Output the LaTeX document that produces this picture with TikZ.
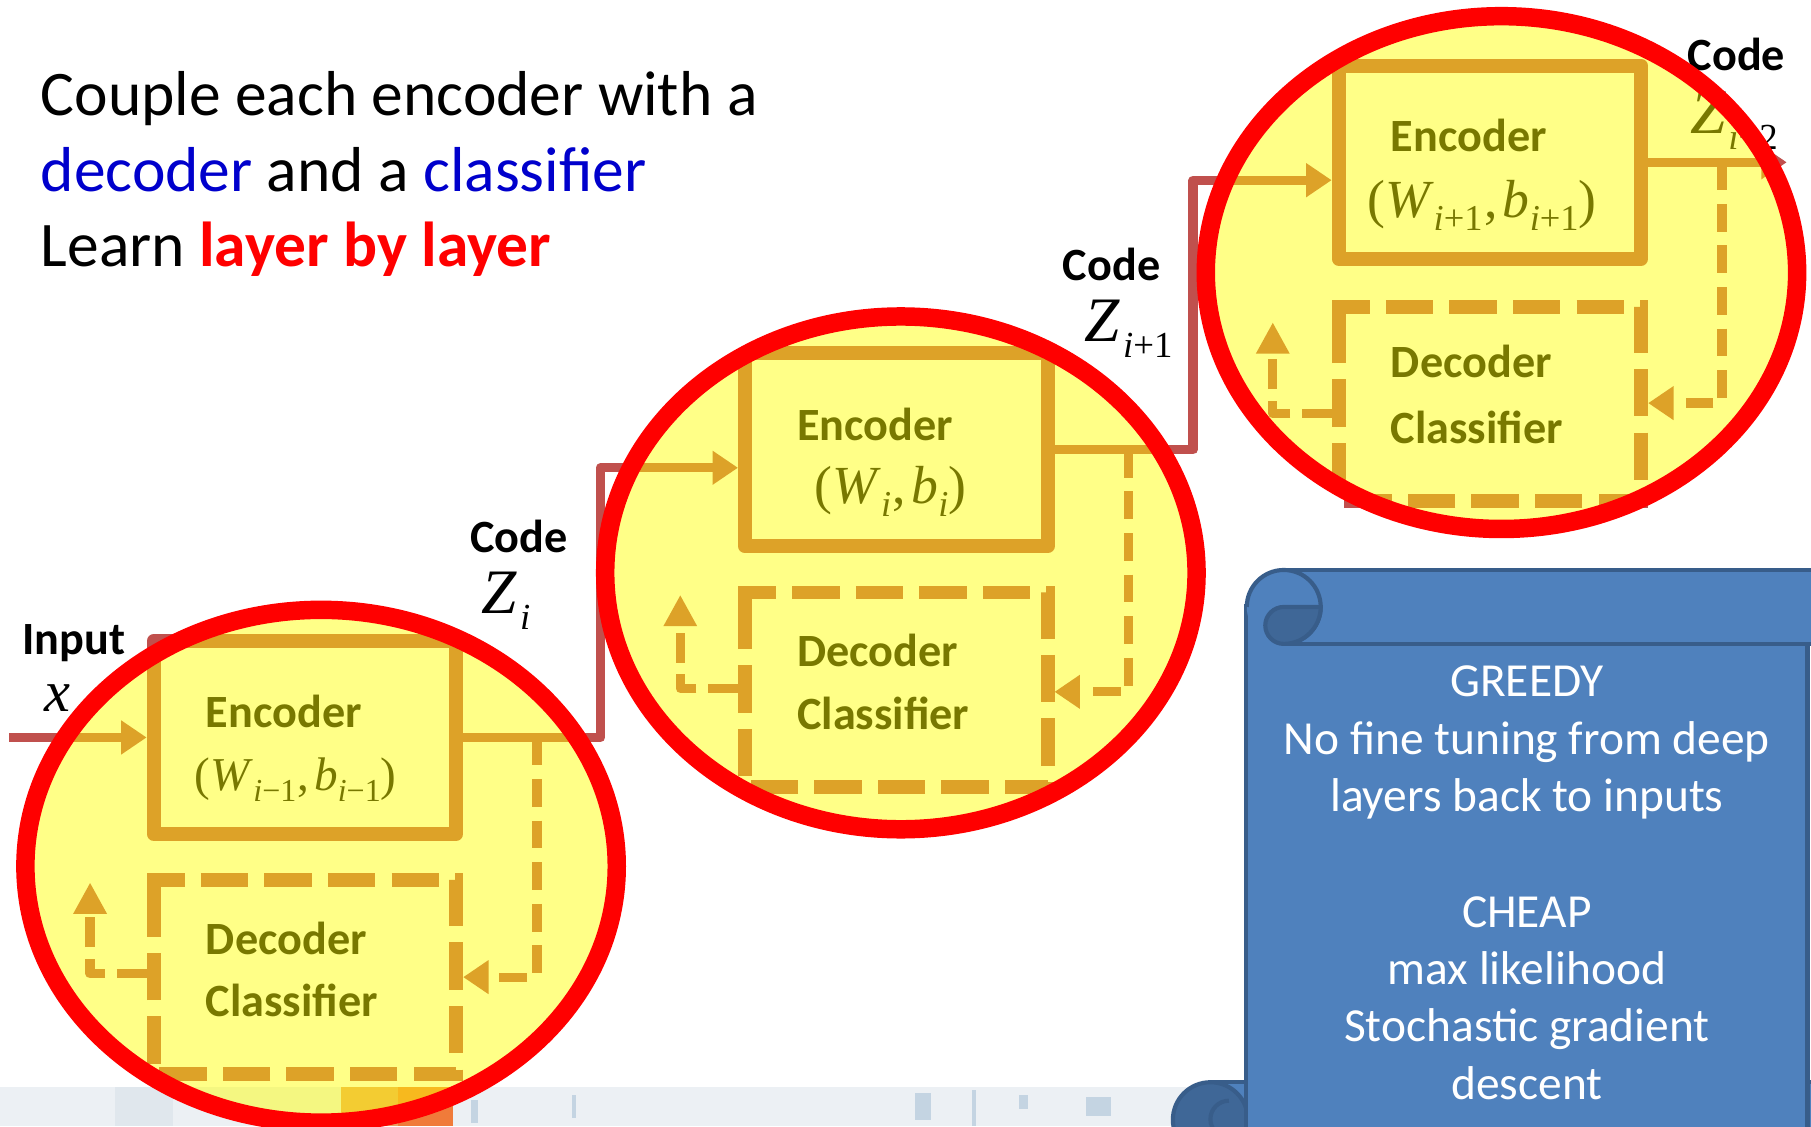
\documentclass[tikz,border=0pt]{standalone}
\usepackage{fontspec}
\setmainfont{Carlito}
\newfontfamily\eqfont{Liberation Serif}
\usetikzlibrary{arrows.meta,calc}

\definecolor{linkred}{RGB}{192,80,77}
\definecolor{ringred}{RGB}{255,0,0}
\definecolor{hilite}{RGB}{255,255,0}
\definecolor{txtblue}{RGB}{0,0,204}
\definecolor{txtred}{RGB}{255,0,0}
\definecolor{scrollfill}{RGB}{79,129,189}
\definecolor{scrollline}{RGB}{56,93,138}
\definecolor{scrolldark}{RGB}{63,103,151}
\definecolor{stripbase}{RGB}{236,240,244}
\definecolor{stripgrey}{RGB}{224,231,237}
\definecolor{stripamber}{RGB}{233,160,96}
\definecolor{striporange}{RGB}{240,123,58}
\definecolor{stripsmudge}{RGB}{196,212,226}

% one drawing unit is 0.025cm (0.7113pt)
% lowered subscript, scaled by the optional ratio of the surrounding size
\makeatletter
\newcommand\lowsub[2][0.6]{\raisebox{-0.25em}{\fontsize{#1\dimexpr\f@size pt\relax}{0pt}\selectfont #2}}
\makeatother
% parameter pair (W_a, b_a)
\newcommand\wbpair[1]{(\textit{W}\lowsub[0.68]{#1}\kern0.03em,\kern0.1em\textit{b}\lowsub[0.68]{#1})}

\tikzset{
  conn/.style={draw=linkred, line width=0.2cm, line join=round},
  feed/.style={conn, dash pattern=on 0.6cm off 0.3cm, shorten >=0.15cm},
  backloop/.style={conn, dash pattern=on 0.65cm off 0.25cm, shorten <=0.15cm},
  bigtip/.style={-{Triangle[length=0.55cm,width=0.7cm]}},
  smalltip/.style={-{Triangle[length=0.68cm,width=0.68cm]}},
  encbox/.style={draw=linkred, line width=0.3cm, line join=round, rectangle,
    minimum width=6.55cm, minimum height=4.175cm, inner sep=0pt},
  decslot/.style={rectangle, minimum width=6.55cm, minimum height=4.2cm,
    inner sep=0pt, outer sep=0pt},
  decline/.style={draw=linkred, line width=0.3cm, dash pattern=on 1.025cm off 0.35cm},
  boldlab/.style={font=\fontsize{28.45pt}{28.45pt}\selectfont\bfseries, inner sep=0pt, anchor=base west},
  eqlab/.style={font=\fontsize{33pt}{33pt}\selectfont\eqfont, inner sep=0pt, anchor=base},
  eqsmall/.style={eqlab, font=\fontsize{29pt}{29pt}\selectfont\eqfont},
  zlab/.style={font=\fontsize{39pt}{39pt}\selectfont\eqfont, inner sep=0pt, anchor=base west},
  xlab/.style={font=\fontsize{36pt}{36pt}\selectfont\eqfont, inner sep=0pt, anchor=base west},
  titlelab/.style={font=\fontsize{39.1pt}{46.9pt}\selectfont, inner sep=0pt, anchor=base west},
  scrolllab/.style={font=\fontsize{29.2pt}{35.6pt}\selectfont, text=white, inner sep=0pt, anchor=base},
  ring/.style={draw=ringred, line width=0.4cm, fill=hilite, fill opacity=0.47},
  scrollpart/.style={fill=scrollfill, draw=scrollline, line width=0.09cm},
}

\begin{document}
\begin{tikzpicture}[x=0.025cm, y=-0.025cm]
\useasboundingbox (0,0) rectangle (1568,975);
\clip (0,0) rectangle (1568,975);
\fill[white] (0,0) rectangle (1568,975);

% pale strip along the bottom edge
\fill[stripbase] (0,941) rectangle (1568,975);
\fill[stripgrey] (100,941) rectangle (150,975);
\fill[stripamber] (295,941) rectangle (345,975);
\fill[striporange] (345,941) rectangle (392,975);
\fill[stripsmudge] (408,952) rectangle (414,972);
\fill[stripsmudge] (495,948) rectangle (499,968);
\fill[stripsmudge] (792,946) rectangle (806,970);
\fill[stripsmudge] (842,944) rectangle (845,975);
\fill[stripsmudge] (882,948) rectangle (890,960);
\fill[stripsmudge] (940,950) rectangle (962,966);

% headline
\node[titlelab] (t1) at (35,100) {Couple each encoder with a};
\node[titlelab] (t2) at (35,166) {\textcolor{txtblue}{decoder} and a \textcolor{txtblue}{classifier}};
\node[titlelab] (t3) at (35,231) {Learn \textcolor{txtred}{\bfseries layer by layer}};

% encoder blocks
\node[encbox] (enc1) at (264,638.5) {};
\node[encbox] (enc2) at (776,389.5) {};
\node[encbox] (enc3) at (1290,140.5) {};

% decoder / classifier blocks (dashed outline)
\node[decslot] (dec1) at (264,846) {};
\node[decslot] (dec2) at (776,597) {};
\node[decslot] (dec3) at (1290,349.5) {};
\foreach \d in {dec1,dec2,dec3} {
  \draw[decline] ([yshift=-0.35cm]\d.north west) -- (\d.north west) -- (\d.north east)
    -- (\d.south east) -- (\d.south west) -- cycle;
}

% block texts
\node[boldlab] (enct1) at (178,630) {Encoder};
\node[eqsmall] (eq1) at (256,684) {\wbpair{\textit{i}−1}};
\node[boldlab] (dect1) at (178,826) {Decoder};
\node[boldlab] (clat1) at (178,880) {Classifier};

\node[boldlab] (enct2) at (690,381) {Encoder};
\node[eqlab] (eq2) at (771,436) {\wbpair{\textit{i}}};
\node[boldlab] (dect2) at (690,577) {Decoder};
\node[boldlab] (clat2) at (690,632) {Classifier};

\node[boldlab] (enct3) at (1204,131) {Encoder};
\node[eqlab] (eq3) at (1283,188) {\wbpair{\textit{i}+1}};
\node[boldlab] (dect3) at (1204,327) {Decoder};
\node[boldlab] (clat3) at (1204,384) {Classifier};

% input and code labels
\node[boldlab] (inlab) at (19,567) {Input};
\node[xlab] (xlab) at (38,616) {\textit{x}};
\node[boldlab] (code1) at (407,478) {Code};
\node[zlab] (z1) at (417,531) {\textit{Z}\kern0.04em\lowsub[0.58]{\textit{i}}};
\node[boldlab] (code2) at (920,243) {Code};
\node[zlab] (z2) at (939,296) {\textit{Z}\kern0.04em\lowsub[0.58]{\textit{i}+1}};
\node[boldlab] (code3) at (1461,61) {Code};
\node[zlab] (z3) at (1463,116) {\textit{Z}\kern0.04em\lowsub[0.58]{\textit{i}+2}};

% main signal path
\coordinate (xin) at (8,638.5);
\coordinate (turn1) at (520,405);
\coordinate (turn2) at (1033,156);
\coordinate (zout) at (1547,140.5);
\draw[conn,bigtip] (xin) -- (enc1.west);
\draw[conn,bigtip] (enc1.east) -| (turn1) -- (turn1 -| enc2.west);
\draw[conn,bigtip] (enc2.east) -| (turn2) -- (turn2 -| enc3.west);
\draw[conn,bigtip] (enc3.east) -- (zout);

% code fed down into the decoder / classifier
\coordinate (fd1) at (465,846);
\coordinate (fd2) at (977,599);
\coordinate (fd3) at (1491,349);
\draw[feed,bigtip] (fd1 |- enc1.east) -- (fd1) -- (fd1 -| dec1.east);
\draw[feed,bigtip] (fd2 |- enc2.east) -- (fd2) -- (fd2 -| dec2.east);
\draw[feed,bigtip] (fd3 |- enc3.east) -- (fd3) -- (fd3 -| dec3.east);

% reconstruction / label outputs
\coordinate (lp1) at (78,843);   \coordinate (lt1) at (78,764);
\coordinate (lp2) at (589,596);  \coordinate (lt2) at (589,515);
\coordinate (lp3) at (1102,358); \coordinate (lt3) at (1102,279);
\draw[backloop,smalltip] (lp1 -| dec1.west) -- (lp1) -- (lt1);
\draw[backloop,smalltip] (lp2 -| dec2.west) -- (lp2) -- (lt2);
\draw[backloop,smalltip] (lp3 -| dec3.west) -- (lp3) -- (lt3);

% scroll
\draw[scrollpart] (1048,937) rectangle (1600,1010);
\draw[scrollpart, fill=scrolldark] (1048,969.5) circle [radius=32.5];
\draw[draw=scrollline, line width=0.09cm] (1064,953) arc[start angle=270, end angle=90, radius=16];
\draw[scrollpart] (1079,525) rectangle (1565,1010);
\draw[scrollpart] (1111.5,493.5) rectangle (1620,557.5);
\fill[scrollfill] (1111.5,525.5) circle [radius=32];
\draw[draw=scrollline, line width=0.09cm] (1079.5,525.5) arc[start angle=180, end angle=450, radius=32];
\draw[scrollpart, fill=scrolldark] (1111.5,525.5) -- (1143.5,525.5)
  arc[start angle=0, end angle=90, radius=32]
  arc[start angle=90, end angle=270, radius=16] -- cycle;

\node[scrolllab] (s1) at (1322,603) {GREEDY};
\node[scrolllab] (s2) at (1322,653) {No fine tuning from deep};
\node[scrolllab] (s3) at (1322,703) {layers back to inputs};
\node[scrolllab] (s4) at (1322,803) {CHEAP};
\node[scrolllab] (s5) at (1322,852) {max likelihood};
\node[scrolllab] (s6) at (1322,902) {Stochastic gradient};
\node[scrolllab] (s7) at (1322,952) {descent};

% highlight rings
\path[ring] (278,750) ellipse [x radius=256, y radius=222];
\path[ring] (780,496) ellipse [x radius=256, y radius=222];
\path[ring] (1300,236) ellipse [x radius=256, y radius=222];
\end{tikzpicture}
\end{document}
